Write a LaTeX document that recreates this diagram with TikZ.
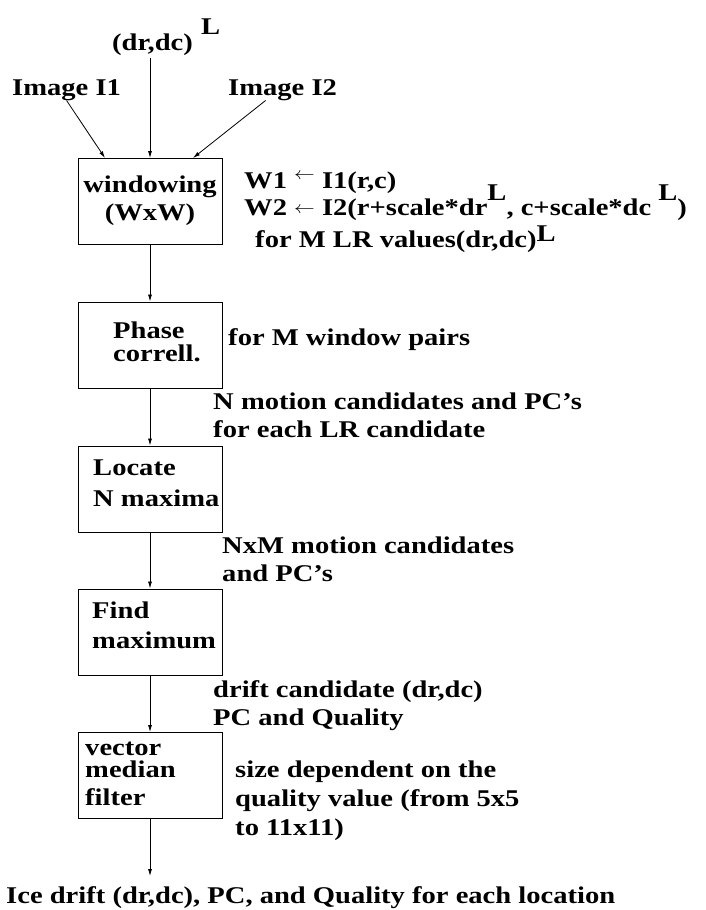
\documentclass[tikz,border=0pt]{standalone}
\usepackage{fontspec}
\setmainfont{Liberation Serif}
\usepackage{graphicx}
\usetikzlibrary{arrows.meta}
\newcommand{\supL}{\raisebox{0.6em}{L}}
\begin{document}
\begin{tikzpicture}[x=1pt,y=-1pt,
  every node/.style={inner sep=0pt},
  txt/.style={font=\fontsize{24}{28}\bfseries\selectfont, xscale=1.19, anchor=base west},
  txtc/.style={txt, anchor=base},
  box/.style={draw, line width=1pt, minimum width=144pt, minimum height=86pt},
  arr/.style={-{Latex[length=7pt,width=4pt]}, line width=0.8pt}]
\useasboundingbox (0,0) rectangle (705,910);

% top inputs
\node[txt] (dl) at (112,50) {(dr,dc)};
\node[txt] (dlL) at (201,34) {L};
\node[txt] (img1) at (12,95) {Image I1};
\node[txt] (img2) at (228,95) {Image I2};
\coordinate (dltip) at (150,58);

% boxes
\node[box] (win) at (150,201.5) {};
\node[box] (pc) at (150,345) {};
\node[box] (loc) at (150,489) {};
\node[box] (fm) at (150,632) {};
\node[box] (vmf) at (150,775.5) {};
\coordinate (outtip) at (150,876);

% box texts
\node[txtc] (win1) at (150,192) {windowing};
\node[txtc] (win2) at (150,220) {(WxW)};
\node[txt] (pc1) at (113,338) {Phase};
\node[txt] (pc2) at (113,361) {correll.};
\node[txt] (loc1) at (93,475) {Locate};
\node[txt] (loc2) at (93,506) {N maxima};
\node[txt] (fm1) at (92,618) {Find};
\node[txt] (fm2) at (92,648) {maximum};
\node[txt] (vmf1) at (85,755) {vector};
\node[txt] (vmf2) at (85,777) {median};
\node[txt] (vmf3) at (85,805) {filter};

% side texts
\node[txt] (w1) at (244,188) {W1 \raisebox{0.35em}{\scalebox{0.7}{$\leftarrow$}} I1(r,c)};
\node[txt] (w2) at (244,215) {W2 \raisebox{0.05em}{\scalebox{0.7}{$\leftarrow$}} I2(r+scale*dr\supL, c+scale*dc \supL)};
\node[txt] (w3) at (255,247) {for M LR values(dr,dc)\raisebox{0.25em}{L}};
\node[txt] (fmw) at (228,345) {for M window pairs};
\node[txt] (nmc1) at (213,409) {N motion candidates and PC’s};
\node[txt] (nmc2) at (213,437) {for each LR candidate};
\node[txt] (nxm1) at (222,553) {NxM motion candidates};
\node[txt] (nxm2) at (222,581) {and PC’s};
\node[txt] (dc1) at (213,697) {drift candidate (dr,dc)};
\node[txt] (dc2) at (213,725) {PC and Quality};
\node[txt] (sd1) at (235,777) {size dependent on the};
\node[txt] (sd2) at (235,806) {quality value (from 5x5};
\node[txt] (sd3) at (235,835) {to 11x11)};
\node[txt] (out) at (6,903) {Ice drift (dr,dc), PC, and Quality for each location};

% connectors
\draw[arr] (dltip) -- (win.north);
\draw[arr] (img1.south) -- ([xshift=-45pt]win.north);
\draw[arr] ([xshift=-17pt]img2.south) -- ([xshift=43pt]win.north);
\draw[arr] (win) -- (pc);
\draw[arr] (pc) -- (loc);
\draw[arr] (loc) -- (fm);
\draw[arr] (fm) -- (vmf);
\draw[arr] (vmf) -- (outtip);
\end{tikzpicture}
\end{document}
